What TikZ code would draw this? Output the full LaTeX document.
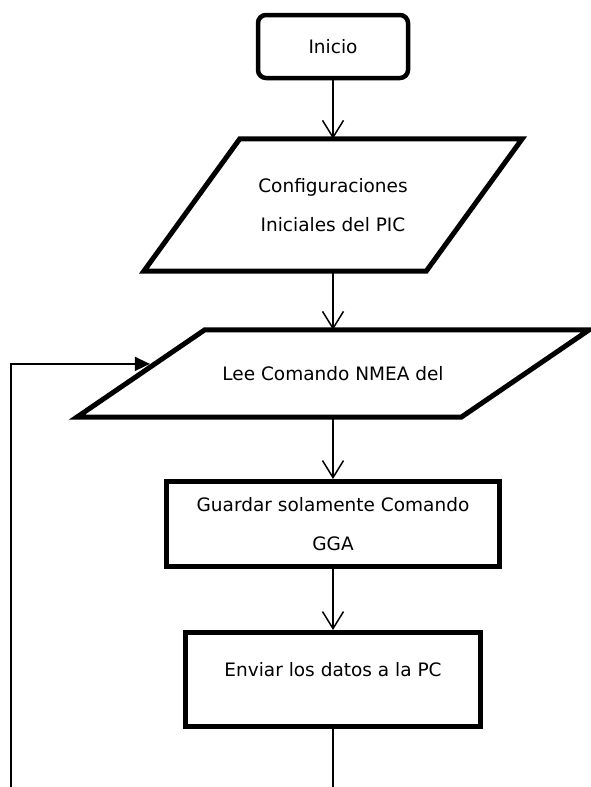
\documentclass[tikz,border=0pt]{standalone}
\usepackage{fontspec}
\setmainfont{DejaVu Sans}
\usetikzlibrary{arrows.meta,calc}

\begin{document}
\begin{tikzpicture}[
  x=1pt, y=-1pt,
  flow arrow/.style={
  arrows = {-Straight Barb[length=17pt,width=21pt]},
  line width=1.5pt
  },
  back arrow/.style={
  arrows = {-Triangle[length=15pt,width=14pt]},
  line width=1.5pt,
  shorten >= 5pt
  },
  start/.style={
      draw,
      line width=4.5pt,
      rounded corners=8pt,
      minimum width=150pt,
      minimum height=63pt
    },
  block/.style={
      draw,
      line width=5pt,
      align=center
    },
  io/.style={
      draw=none,
      align=center
    },
  slant/.style={
      line join=miter,
      line width=5pt
    },
  every node/.style={
      font=\fontsize{18.5}{39}\selectfont,
      inner sep=0pt
    }]

  \useasboundingbox (0,0) rectangle (590,787);

  \node [start] (inicio) at (333,46.5) {Inicio};

  \node [io, minimum width=186pt, minimum height=132pt] (config) at (333,205) {Configuraciones\\Iniciales del PIC};
  \draw [slant] (config.north west) -- ($(config.north east) + (96,0)$) -- (config.south east) -- ($(config.south west) + (-96,0)$) -- cycle;

  \node [io, minimum width=256pt, minimum height=87pt] (lee) at (333,373.5) {Lee Comando NMEA del};
  \coordinate (lee bl) at ($(lee.south west) + (-128,0)$);
  \draw [slant] (lee.north west) -- ($(lee.north east) + (128,0)$) -- (lee.south east) -- (lee bl) -- cycle;

  \node [block, minimum width=333pt, minimum height=85pt] (guardar) at (333,524) {Guardar solamente Comando\\GGA};
  \node [block, minimum width=295pt, minimum height=94pt, text height=14pt, text depth=20pt] (enviar) at (333,679.5) {Enviar los datos a la PC};

  \draw [flow arrow] (inicio) -- (config);
  \draw [flow arrow] (config) -- (lee);
  \draw [flow arrow] (lee) -- (guardar);
  \draw [flow arrow] (guardar) -- (enviar);

  \coordinate (fin) at (333,787);
  \draw [line width=1.5pt] (enviar) -- (fin);

  \coordinate (retorno) at (11,787);
  \coordinate (entrada) at ($(lee.north west)!0.39!(lee bl)$);
  \draw [back arrow] (retorno) |- (entrada);
\end{tikzpicture}
\end{document}
